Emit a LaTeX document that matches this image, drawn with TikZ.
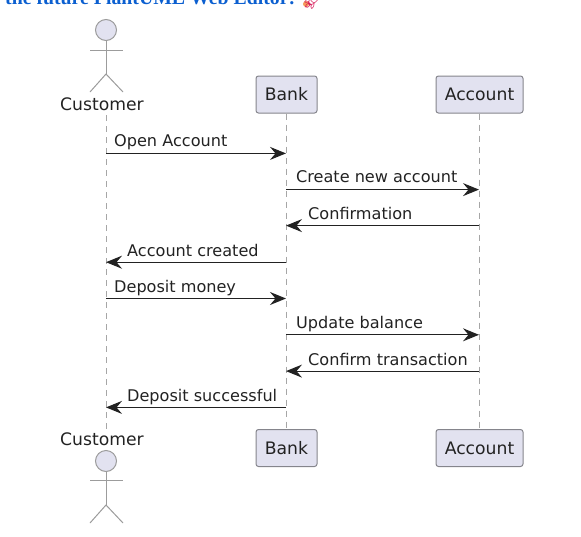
\documentclass[tikz,border=0pt]{standalone}
\usepackage{fontspec}
\setmainfont{DejaVu Sans}
\newfontfamily\titlefont{Liberation Serif}
\newfontfamily\emojifont{Noto Emoji}
\usetikzlibrary{arrows.meta}
\definecolor{pfill}{HTML}{E2E2F0}
\definecolor{pline}{HTML}{85858C}
\definecolor{lifeline}{HTML}{A6A6A6}
\definecolor{stickc}{HTML}{9C9C9C}
\definecolor{msgc}{HTML}{222222}
\definecolor{linkblue}{HTML}{0B5FD0}
\definecolor{emojired}{HTML}{D81E5B}
\definecolor{emojiorange}{HTML}{F59A5A}
\tikzset{
  x=1pt,y=-1pt,
  pbox/.style={draw=pline,fill=pfill,rounded corners=2.5pt,line width=1pt,minimum height=37pt,anchor=center,inner sep=0pt,font=\fontsize{17.2}{20}\selectfont,text=msgc},
  lbl/.style={font=\fontsize{16.1}{19}\selectfont,text=msgc,inner sep=0pt,anchor=base west},
  actorname/.style={font=\fontsize{17.2}{20}\selectfont,text=msgc,inner sep=0pt},
  life/.style={draw=lifeline,line width=1pt,dash pattern=on 6pt off 5pt},
  msg/.style={draw=msgc,line width=1.2pt,-{Stealth[length=16pt,width=13pt,inset=5.5pt]}},
  stick/.style={draw=stickc,line width=1pt},
  head/.style={circle,draw=stickc,fill=pfill,line width=1pt,minimum size=21pt,inner sep=0pt},
}
\begin{document}
\begin{tikzpicture}
\useasboundingbox (0,0) rectangle (581,536);
\begin{scope}
\clip (0,0) rectangle (581,536);
\node[anchor=base west,inner sep=0pt,font=\titlefont\bfseries\fontsize{19.8}{22}\selectfont,text=linkblue] (title) at (5,4) {the future PlantUML Web Editor!};
\fill[emojiorange] (306,4) circle (3);
\node[anchor=base west,inner sep=0pt,font=\emojifont\fontsize{17}{19}\selectfont,text=emojired] (emoji) at (302,6) {🚀};
\end{scope}
% participants
\node[actorname] (cT) at (102,104) {Customer};
\node[actorname] (cB) at (102,439) {Customer};
\node[pbox,minimum width=61pt] (bT) at (286.5,94.5) {Bank};
\node[pbox,minimum width=61pt] (bB) at (286.5,448) {Bank};
\node[pbox,minimum width=87pt] (aT) at (479.5,94.5) {Account};
\node[pbox,minimum width=87pt] (aB) at (479.5,448) {Account};
% lifelines
\coordinate (c1) at (106,115);
\coordinate (c2) at (106,430);
\draw[life] (c1) -- (c2);
\draw[life] (bT.south) -- (bB.north);
\draw[life] (aT.south) -- (aB.north);
% actor top
\node[head] (h1) at (106,30) {};
\coordinate (n1) at (106,74);
\draw[stick] (h1.south) -- (n1);
\coordinate (al1) at (90,50); \coordinate (ar1) at (123,50);
\draw[stick] (al1) -- (ar1);
\coordinate (ll1) at (90,92); \coordinate (lr1) at (123,92);
\draw[stick] (ll1) -- (n1) -- (lr1);
% actor bottom
\node[head] (h2) at (106,461) {};
\coordinate (n2) at (106,505);
\draw[stick] (h2.south) -- (n2);
\coordinate (al2) at (90,480); \coordinate (ar2) at (123,480);
\draw[stick] (al2) -- (ar2);
\coordinate (ll2) at (90,523); \coordinate (lr2) at (123,523);
\draw[stick] (ll2) -- (n2) -- (lr2);
% message ends
\foreach \n/\y in {1/153.4,2/189.6,3/225.6,4/262.2,5/298.5,6/334.8,7/371.1,8/407.4}{
  \coordinate (C\n) at (106,\y);
  \coordinate (B\n) at (286,\y);
  \coordinate (A\n) at (479,\y);
}
\draw[msg] (C1) -- (B1);
\draw[msg] (B2) -- (A2);
\draw[msg] (A3) -- (B3);
\draw[msg] (B4) -- (C4);
\draw[msg] (C5) -- (B5);
\draw[msg] (B6) -- (A6);
\draw[msg] (A7) -- (B7);
\draw[msg] (B8) -- (C8);
% labels
\node[lbl] (m1) at (114,146.5) {Open Account};
\node[lbl] (m2) at (296,182.5) {Create new account};
\node[lbl] (m3) at (308,219.5) {Confirmation};
\node[lbl] (m4) at (127,256) {Account created};
\node[lbl] (m5) at (114,292) {Deposit money};
\node[lbl] (m6) at (296,328.5) {Update balance};
\node[lbl] (m7) at (308,365) {Confirm transaction};
\node[lbl] (m8) at (127,401) {Deposit successful};
\end{tikzpicture}
\end{document}
